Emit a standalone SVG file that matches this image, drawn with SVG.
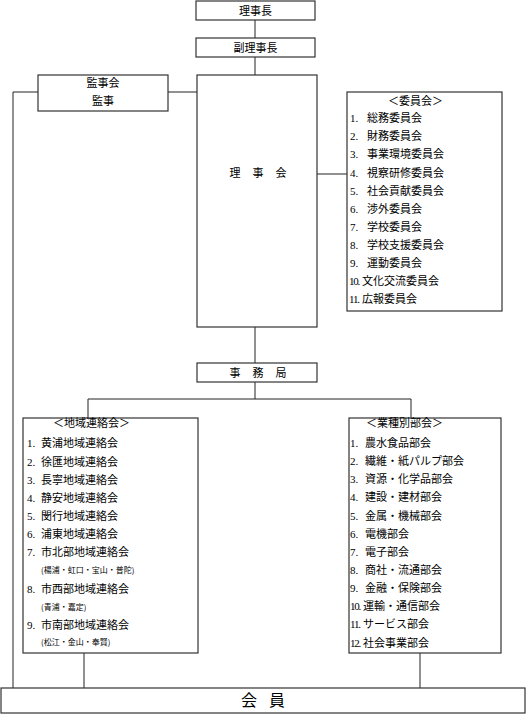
<svg xmlns="http://www.w3.org/2000/svg" width="526" height="714" viewBox="0 0 526 714">
<style>
.box{fill:#fff;stroke:#333;stroke-width:1.2}
.ln{fill:none;stroke:#222;stroke-width:1}
text{font-family:"Noto Sans CJK JP","Noto Sans CJK SC",sans-serif;font-size:11px;fill:#000}
.c{text-anchor:middle}
.n{font-family:"Liberation Serif",serif;font-size:11px}
.n2{font-family:"Liberation Serif",serif;font-size:11px;letter-spacing:-1.2px}
.s{font-size:8px}
.big{font-size:16px}
</style>
<rect width="526" height="714" fill="#fff"/>
<g id="connectors">
<line class="ln" x1="255" y1="20" x2="255" y2="38"/>
<line class="ln" x1="255" y1="57" x2="255" y2="75"/>
<line class="ln" x1="168" y1="92" x2="197" y2="92"/>
<polyline class="ln" points="38,92 13,92 13,688"/>
<line class="ln" x1="317" y1="174" x2="348" y2="174"/>
<line class="ln" x1="255" y1="327" x2="255" y2="363"/>
<line class="ln" x1="255" y1="382" x2="255" y2="399"/>
<polyline class="ln" points="88,418 88,399 411,399 411,418"/>
<line class="ln" x1="84" y1="653" x2="84" y2="688"/>
<line class="ln" x1="420" y1="653" x2="420" y2="688"/>
</g>
<g id="rijicho">
<rect class="box" x="196" y="1" width="119" height="19"/>
<text class="c" x="255.5" y="14.5">理事長</text>
</g>
<g id="fukurijicho">
<rect class="box" x="196" y="38" width="119" height="19"/>
<text class="c" x="255.5" y="51.5">副理事長</text>
</g>
<g id="kanjikai">
<rect class="box" x="38" y="75" width="130" height="36"/>
<text class="c" x="103" y="87">監事会</text>
<text class="c" x="103" y="105">監事</text>
</g>
<g id="rijikai">
<rect class="box" x="197" y="75" width="120" height="252"/>
<text class="c" x="235" y="177">理</text>
<text class="c" x="258" y="177">事</text>
<text class="c" x="281" y="177">会</text>
</g>
<g id="iinkai">
<rect class="box" x="347" y="92" width="155" height="219"/>
<text x="388" y="105">＜委員会＞</text>
<text class="n" x="350" y="122">1.</text><text x="367" y="122">総務委員会</text>
<text class="n" x="350" y="140">2.</text><text x="367" y="140">財務委員会</text>
<text class="n" x="350" y="158">3.</text><text x="367" y="158">事業環境委員会</text>
<text class="n" x="350" y="176.5">4.</text><text x="367" y="176.5">視察研修委員会</text>
<text class="n" x="350" y="194.5">5.</text><text x="367" y="194.5">社会貢献委員会</text>
<text class="n" x="350" y="212.5">6.</text><text x="367" y="212.5">渉外委員会</text>
<text class="n" x="350" y="230.5">7.</text><text x="367" y="230.5">学校委員会</text>
<text class="n" x="350" y="248.5">8.</text><text x="367" y="248.5">学校支援委員会</text>
<text class="n" x="350" y="267">9.</text><text x="367" y="267">運動委員会</text>
<text class="n2" x="349" y="285">10.</text><text x="362" y="285">文化交流委員会</text>
<text class="n2" x="349" y="303">11.</text><text x="362" y="303">広報委員会</text>
</g>
<g id="jimukyoku">
<rect class="box" x="197" y="363" width="120" height="19"/>
<text class="c" x="235" y="376.5">事</text>
<text class="c" x="258" y="376.5">務</text>
<text class="c" x="281" y="376.5">局</text>
</g>
<g id="chiiki">
<rect class="box" x="23" y="418" width="175" height="235"/>
<text x="53" y="427">＜地域連絡会＞</text>
<text class="n" x="27" y="447">1.</text><text x="41" y="447">黄浦地域連絡会</text>
<text class="n" x="27" y="465.5">2.</text><text x="41" y="465.5">徐匯地域連絡会</text>
<text class="n" x="27" y="483.5">3.</text><text x="41" y="483.5">長寧地域連絡会</text>
<text class="n" x="27" y="501.5">4.</text><text x="41" y="501.5">静安地域連絡会</text>
<text class="n" x="27" y="520">5.</text><text x="41" y="520">閔行地域連絡会</text>
<text class="n" x="27" y="538">6.</text><text x="41" y="538">浦東地域連絡会</text>
<text class="n" x="27" y="556">7.</text><text x="41" y="556">市北部地域連絡会</text>
<text class="s" x="41" y="573">(楊浦・虹口・宝山・普陀)</text>
<text class="n" x="27" y="593">8.</text><text x="41" y="593">市西部地域連絡会</text>
<text class="s" x="41" y="609.5">(青浦・嘉定)</text>
<text class="n" x="27" y="629">9.</text><text x="41" y="629">市南部地域連絡会</text>
<text class="s" x="41" y="645">(松江・金山・奉賢)</text>
</g>
<g id="gyoshu">
<rect class="box" x="349" y="418" width="152" height="235"/>
<text x="366" y="427">＜業種別部会＞</text>
<text class="n" x="350" y="447">1.</text><text x="365" y="447">農水食品部会</text>
<text class="n" x="350" y="465">2.</text><text x="365" y="465">繊維・紙パルプ部会</text>
<text class="n" x="350" y="483">3.</text><text x="365" y="483">資源・化学品部会</text>
<text class="n" x="350" y="501">4.</text><text x="365" y="501">建設・建材部会</text>
<text class="n" x="350" y="519.5">5.</text><text x="365" y="519.5">金属・機械部会</text>
<text class="n" x="350" y="537.5">6.</text><text x="365" y="537.5">電機部会</text>
<text class="n" x="350" y="555.5">7.</text><text x="365" y="555.5">電子部会</text>
<text class="n" x="350" y="574">8.</text><text x="365" y="574">商社・流通部会</text>
<text class="n" x="350" y="592">9.</text><text x="365" y="592">金融・保険部会</text>
<text class="n2" x="350" y="610">10.</text><text x="363" y="610">運輸・通信部会</text>
<text class="n2" x="350" y="628">11.</text><text x="363" y="628">サービス部会</text>
<text class="n2" x="350" y="646.5">12.</text><text x="363" y="646.5">社会事業部会</text>
</g>
<g id="kaiin">
<rect class="box" x="1" y="688" width="524" height="25"/>
<text class="big c" x="249" y="706">会</text>
<text class="big c" x="277" y="706">員</text>
</g>
</svg>
